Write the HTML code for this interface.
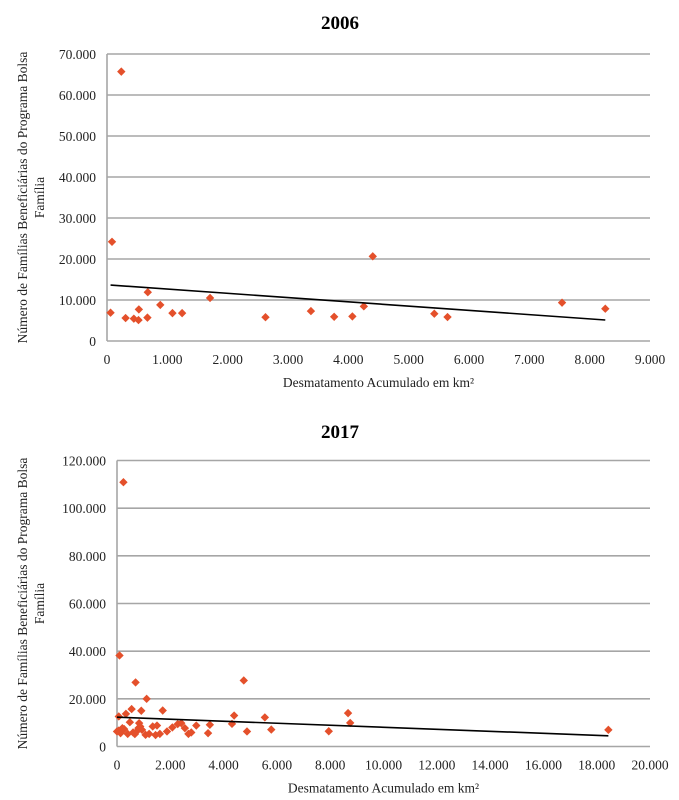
<!DOCTYPE html>
<html><head><meta charset="utf-8">
<style>
body{margin:0;background:#fff;width:679px;height:800px;overflow:hidden}
svg{display:block;font-family:"Liberation Serif",serif}
</style></head>
<body>
<svg id="chart" width="679" height="800" viewBox="0 0 679 800"></svg>
<script>
// ---- 2006 data ----
const x2006 = [59,237,83,308,445,528,522,670,676,883,1085,1245,1708,2627,3380,3765,4067,4257,4405,5425,5644,7542,8259];
const y2006 = [6900,65700,24200,5600,5450,7700,5100,5700,11900,8800,6800,6800,10500,5800,7300,5900,6000,8450,20650,6660,5850,9350,7880];
const trend2006X = [59,8259];
const trend2006Y = [13650,5120];
const xTicks2006 = [0,1000,2000,3000,4000,5000,6000,7000,8000,9000];
const yTicks2006 = [0,10000,20000,30000,40000,50000,60000,70000];
// ---- 2017 data ----
const x2017 = [241,94,697,1112,4757,67,335,549,482,911,1715,831,0,134,268,402,603,737,804,871,1072,1206,1340,1447,1501,1608,1876,2077,2278,2412,2546,2680,2787,2975,3417,3484,4315,4395,4878,5548,5789,7946,8670,8750,18438,67,201,670,938];
const y2017 = [110900,38200,26900,20000,27700,12600,13700,15700,10200,15000,15100,9800,6300,5600,7300,5300,5900,6300,7700,8400,4900,5300,8400,4800,8800,5300,6300,8000,9400,9800,7700,5300,5900,8800,5600,9100,9500,13000,6300,12200,7100,6400,14000,9900,7000,6700,7700,5200,7000];
const trend2017X = [0,18438];
const trend2017Y = [12300,4500];
const xTicks2017 = [0,2000,4000,6000,8000,10000,12000,14000,16000,18000,20000];
const yTicks2017 = [0,20000,40000,60000,80000,100000,120000];

const svg = document.getElementById('chart');
const NS = 'http://www.w3.org/2000/svg';
function mk(tag, attrs, parent){
  const e = document.createElementNS(NS, tag);
  for (const k in attrs) e.setAttribute(k, attrs[k]);
  (parent||svg).appendChild(e);
  return e;
}
function fmt(v){ return v.toString().replace(/\B(?=(\d{3})+(?!\d))/g,'.'); }

function drawChart(cfg){
  const g = mk('g', {});
  
  
  const sx = v => cfg.left + (v - cfg.xMin)/(cfg.xMax - cfg.xMin)*(cfg.right - cfg.left);
  const sy = v => cfg.bottom - (v - cfg.yMin)/(cfg.yMax - cfg.yMin)*(cfg.bottom - cfg.top);
  // title
  const t = mk('text', {x: cfg.titleX, y: cfg.titleY, 'text-anchor':'middle', 'font-size':'19', 'font-weight':'bold', fill:'#000'}, g);
  t.textContent = cfg.title;
  
  
  // gridlines + y labels
  cfg.yTicks.forEach(v => {
    const y = sy(v);
    const gl = mk('line', {x1: cfg.left, x2: cfg.right, y1: y, y2: y, stroke:'#a6a6a6', 'stroke-width':'1.6'}, g);
    
    
    const lb = mk('text', {x: cfg.left - 11, y: y + 5, 'text-anchor':'end', 'font-size':'13.5', fill:'#222'}, g);
    lb.textContent = fmt(v);
    
    
  });
  // y axis line
  const ya = mk('line', {x1: cfg.left, x2: cfg.left, y1: cfg.top, y2: cfg.bottom, stroke:'#a6a6a6', 'stroke-width':'1.6'}, g);
  
  
  // x labels
  cfg.xTicks.forEach(v => {
    const lb = mk('text', {x: sx(v), y: cfg.bottom + 23, 'text-anchor':'middle', 'font-size':'13.5', fill:'#222'}, g);
    lb.textContent = fmt(v);
    
    
  });
  // axis titles
  const xt = mk('text', {x: (cfg.left + cfg.right)/2, y: cfg.bottom + 46, 'text-anchor':'middle', 'font-size':'13.5', fill:'#222'}, g);
  xt.textContent = 'Desmatamento Acumulado em km²';
  
  
  const cy = (cfg.top + cfg.bottom)/2;
  const yt = mk('text', {transform:'translate(27,'+cy+') rotate(-90)', 'text-anchor':'middle', 'font-size':'13.5', fill:'#222'}, g);
  
  
  const s1 = mk('tspan', {x:0, y:0}, yt); s1.textContent = 'Número de Famílias Beneficiárias do Programa Bolsa';
  const s2 = mk('tspan', {x:0, y:17}, yt); s2.textContent = 'Família';
  // points
  cfg.xs.forEach((xv, i) => {
    const px = sx(xv), py = sy(cfg.ys[i]);
    const p = mk('path', {d:'M'+px+' '+(py-4.2)+' L'+(px+4.2)+' '+py+' L'+px+' '+(py+4.2)+' L'+(px-4.2)+' '+py+' Z', fill:'#e4502b'}, g);
    
    
  });
  // trend
  const tl = mk('line', {x1: sx(cfg.tx[0]), y1: sy(cfg.ty[0]), x2: sx(cfg.tx[1]), y2: sy(cfg.ty[1]), stroke:'#000', 'stroke-width':'1.6'}, g);
  
  
}

drawChart({name:'chart-2006', title:'2006', titleX:340, titleY:29,
  left:107, right:650, top:54, bottom:341, xMin:0, xMax:9000, yMin:0, yMax:70000,
  xTicks:xTicks2006, yTicks:yTicks2006, xs:x2006, ys:y2006, tx:trend2006X, ty:trend2006Y});
drawChart({name:'chart-2017', title:'2017', titleX:340, titleY:438,
  left:117, right:650, top:460.5, bottom:746.5, xMin:0, xMax:20000, yMin:0, yMax:120000,
  xTicks:xTicks2017, yTicks:yTicks2017, xs:x2017, ys:y2017, tx:trend2017X, ty:trend2017Y});
</script>
</body></html>
